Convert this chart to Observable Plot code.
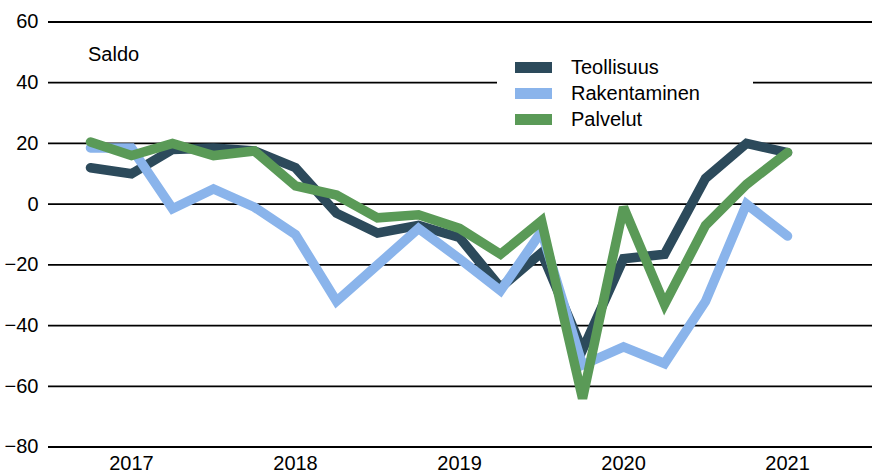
<!DOCTYPE html>
<html>
<head>
<meta charset="utf-8">
<script src="https://cdn.jsdelivr.net/npm/d3@7"></script>
<script src="https://cdn.jsdelivr.net/npm/@observablehq/plot@0.6"></script>
<style>
  html, body { margin: 0; padding: 0; background: #fff; }
  #wrap { position: relative; width: 872px; height: 474px; font-family: "Liberation Sans", Arial, sans-serif; color: #000; }
  #saldo { position: absolute; left: 88px; top: 43px; font-size: 20px; line-height: 22px; }
  #legend { position: absolute; left: 497px; top: 50px; width: 256px; height: 84px; background: #fff; }
  .item { position: absolute; left: 0; height: 26px; width: 256px; }
  .sw { position: absolute; left: 18px; top: 8px; width: 37px; height: 11px; }
  .lt { position: absolute; left: 74px; top: 2px; font-size: 20px; line-height: 22px; white-space: nowrap; }
</style>
</head>
<body>
<div id="wrap"></div>
<script>
// Quarterly observations, 2016 Q4 – 2021 Q1
const quarters = ["2016Q4","2017Q1","2017Q2","2017Q3","2017Q4","2018Q1","2018Q2","2018Q3","2018Q4",
                  "2019Q1","2019Q2","2019Q3","2019Q4","2020Q1","2020Q2","2020Q3","2020Q4","2021Q1"];
const teollisuus   = [12, 10, 18, 18.5, 17.5, 12, -3, -9.5, -7, -11, -27.5, -16, -48, -18, -16.5, 8.5, 20, 17];
const rakentaminen = [18.5, 18.5, -1.5, 5, -1, -10, -32, -20, -8, -18, -28.5, -9, -53, -47, -52.5, -32, 0, -10.5];
const palvelut     = [20.5, 16, 20, 16, 17.5, 6, 3, -4.5, -3.5, -8, -16.5, -5.5, -64, -1, -33, -7, 6.5, 17];
const seriesNames  = ["Teollisuus", "Rakentaminen", "Palvelut"];
const seriesColors = ["#2c4a5b", "#8ab4eb", "#5a9a57"];
const yTicks = [-80, -60, -40, -20, 0, 20, 40, 60];
const xTicks = [2017, 2018, 2019, 2020, 2021];

const qx = q => +q.slice(0, 4) + (+q.slice(5) - 1) / 4;
const seriesValues = [teollisuus, rakentaminen, palvelut];
const data = seriesNames.flatMap((name, s) =>
  quarters.map((q, i) => ({ series: name, x: qx(q), value: seriesValues[s][i] })));

const chart = Plot.plot({
  width: 872,
  height: 474,
  marginLeft: 48,
  marginRight: 0,
  marginTop: 21.5,
  marginBottom: 27.5,
  style: { fontFamily: "Liberation Sans, Arial, sans-serif", fontSize: "20px", color: "#000", background: "#fff" },
  x: { domain: [2016.494, 2021.518] },
  y: { domain: [-80, 60] },
  color: { domain: seriesNames, range: seriesColors },
  marks: [
    Plot.ruleY(yTicks, { stroke: "#000", strokeWidth: 1.8 }),
    Plot.axisY(yTicks, { tickSize: 0, tickPadding: 10, fontSize: 20, label: null }),
    Plot.axisX(xTicks, { tickSize: 0, tickPadding: 9, fontSize: 20, label: null, tickFormat: d => String(d) }),
    ...seriesNames.map(name =>
      Plot.line(data.filter(d => d.series === name), {
        x: "x", y: "value", stroke: "series", strokeWidth: 9.5,
        strokeLinejoin: "miter", strokeMiterlimit: 3
      }))
  ]
});

const wrap = document.getElementById("wrap");
wrap.appendChild(chart);

const saldo = document.createElement("div");
saldo.id = "saldo";
saldo.textContent = "Saldo";
wrap.appendChild(saldo);

const legend = document.createElement("div");
legend.id = "legend";
seriesNames.forEach((name, i) => {
  const item = document.createElement("div");
  item.className = "item";
  item.style.top = (3.5 + i * 26.2) + "px";
  const sw = document.createElement("div");
  sw.className = "sw";
  sw.style.background = seriesColors[i];
  const lt = document.createElement("div");
  lt.className = "lt";
  lt.textContent = name;
  item.appendChild(sw);
  item.appendChild(lt);
  legend.appendChild(item);
});
wrap.appendChild(legend);
</script>
</body>
</html>
